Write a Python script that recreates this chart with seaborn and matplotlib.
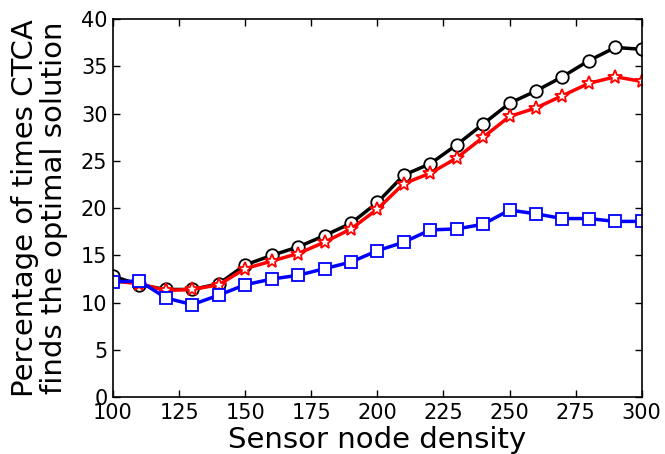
import numpy as np
import pandas as pd
import seaborn as sns
import matplotlib
matplotlib.use("Agg")
import matplotlib.pyplot as plt

# data
density = [100, 110, 120, 130, 140, 150, 160, 170, 180, 190, 200,
           210, 220, 230, 240, 250, 260, 270, 280, 290, 300]
black_circle = [12.8, 11.9, 11.4, 11.4, 12.0, 14.0, 15.0, 15.9, 17.1, 18.4, 20.6,
                23.5, 24.7, 26.7, 28.9, 31.1, 32.4, 33.9, 35.6, 37.0, 36.8]
red_star = [12.3, 12.0, 11.3, 11.4, 11.9, 13.6, 14.4, 15.2, 16.4, 17.8, 19.9,
            22.6, 23.7, 25.3, 27.5, 29.7, 30.6, 31.9, 33.2, 33.9, 33.4]
blue_square = [12.2, 12.3, 10.5, 9.8, 10.8, 11.9, 12.5, 12.9, 13.6, 14.3, 15.5,
               16.4, 17.7, 17.8, 18.3, 19.8, 19.4, 18.9, 18.9, 18.6, 18.6]

sns.set_style("ticks")
plt.rcParams['font.family'] = ['DejaVu Sans']
plt.rcParams.update({'text.color': 'black', 'axes.labelcolor': 'black',
                     'xtick.color': 'black', 'ytick.color': 'black'})

fig, ax = plt.subplots(figsize=(6.65, 4.54), dpi=100)

series = [(black_circle, 'black', 'o', 9),
          (red_star, 'red', '*', 10),
          (blue_square, 'blue', 's', 9)]
for vals, col, mk, ms in series:
    df = pd.DataFrame({'x': density, 'y': vals})
    sns.lineplot(data=df, x='x', y='y', ax=ax, color=col, linewidth=2.5,
                 marker=mk, markersize=ms, markerfacecolor='white',
                 markeredgecolor=col, markeredgewidth=1.3)

ax.set_xlim(100, 300)
ax.set_ylim(0, 40)
ax.set_xticks(np.arange(100, 301, 25))
ax.set_yticks(np.arange(0, 41, 5))
ax.tick_params(direction='in', top=True, right=True, labelsize=15,
               length=5, width=1, pad=4)
for s in ax.spines.values():
    s.set_linewidth(1.2)
    s.set_color('black')
ax.set_xlabel("Sensor node density", fontsize=21, labelpad=2)
ax.set_ylabel("Percentage of times CTCA\nfinds the optimal solution",
              fontsize=21, linespacing=1.05, labelpad=9)

fig.subplots_adjust(left=0.17, right=0.965, top=0.958, bottom=0.125)
fig.savefig("out.png", dpi=100)
